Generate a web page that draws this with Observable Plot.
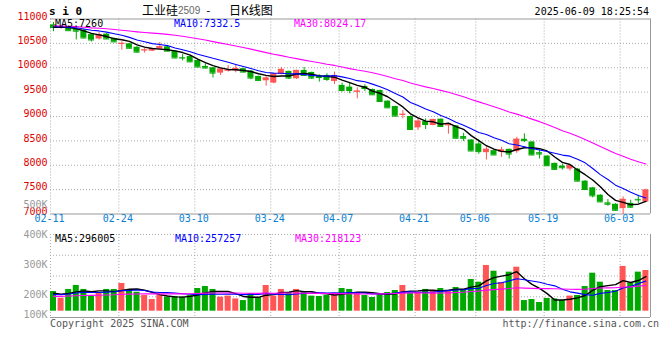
<!DOCTYPE html>
<html><head><meta charset="utf-8">
<script src="https://cdn.jsdelivr.net/npm/d3@7"></script>
<script src="https://cdn.jsdelivr.net/npm/@observablehq/plot@0.6"></script>
<style>
html,body{margin:0;padding:0;background:#fff;}
#chart{position:relative;width:660px;height:360px;overflow:hidden;background:#fff;font-family:"DejaVu Sans Mono",monospace;}
#chart svg{position:absolute;left:0;top:0;}
.lbl{position:absolute;white-space:nowrap;line-height:1;font-size:10px;font-family:"DejaVu Sans Mono",monospace;}
</style></head>
<body><div id="chart"></div>
<script>
const dates = ["02-11","02-12","02-13","02-14","02-17","02-18","02-19","02-20","02-21","02-24","02-25","02-26","02-27","02-28",
"03-03","03-04","03-05","03-06","03-07","03-10","03-11","03-12","03-13","03-14","03-17","03-18","03-19","03-20","03-21","03-24","03-25","03-26","03-27","03-28","03-31",
"04-01","04-02","04-03","04-07","04-08","04-09","04-10","04-11","04-14","04-15","04-16","04-17","04-18","04-21","04-22","04-23","04-24","04-25","04-28","04-29","04-30",
"05-06","05-07","05-08","05-09","05-12","05-13","05-14","05-15","05-16","05-19","05-20","05-21","05-22","05-23","05-26","05-27","05-28","05-29","05-30",
"06-03","06-04","06-05","06-06"];
const opens = [10880,10820,10840,10790,10770,10680,10590,10690,10600,10480,10490,10420,10350,10340,10380,10430,10340,10210,10230,10150,10027,10000,9890,9930,9938,9980,9931,9822,9733,9685,9863,9925,9774,9945,9904,9842,9842,9719,9637,9603,9500,9616,9555,9534,9315,9205,9030,9000,8767,8897,8815,8945,8808,8808,8588,8519,8437,8258,8300,8265,8327,8279,8533,8478,8258,8189,8038,7983,7921,7921,7674,7537,7386,7228,7200,7111,7220,7300,7245];
const highs = [10930,10870,10860,10810,10790,10690,10720,10700,10610,10530,10500,10430,10400,10400,10520,10440,10350,10270,10240,10160,10080,10005,9975,10048,10048,9990,9940,9830,9842,9877,10007,9930,9950,10007,9910,9856,9877,9911,9685,9692,9589,9650,9563,9540,9320,9210,9123,9010,8973,8952,8945,8950,8860,8815,8656,8525,8519,8382,8320,8368,8330,8574,8643,8485,8313,8195,8045,8024,8000,7930,7685,7545,7395,7296,7210,7351,7283,7385,7510];
const lows = [10740,10790,10750,10570,10600,10530,10570,10580,10520,10360,10390,10300,10300,10330,10370,10330,10190,10140,10110,10000,9975,9790,9842,9911,9897,9900,9753,9730,9623,9671,9855,9760,9760,9835,9760,9705,9720,9657,9500,9466,9363,9513,9435,9295,9170,9000,8952,8720,8712,8733,8810,8780,8636,8540,8485,8280,8224,8107,8200,8162,8128,8244,8464,8200,8128,7980,7905,7900,7880,7660,7495,7330,7235,7159,7060,6990,7111,7214,7240];
const closes = [10825,10840,10760,10750,10610,10570,10680,10590,10530,10500,10400,10320,10365,10390,10430,10340,10200,10200,10120,10015,9995,9890,9973,9955,9986,9911,9788,9740,9788,9870,9966,9788,9945,9842,9788,9800,9760,9842,9534,9534,9520,9575,9445,9308,9178,9007,9045,8733,8904,8836,8938,8794,8849,8553,8553,8292,8279,8327,8210,8313,8230,8533,8505,8210,8230,7990,7915,7949,7990,7674,7502,7372,7248,7200,7076,7300,7140,7290,7490];
const volumes = [168000,111000,186000,220000,186000,126000,151000,186000,186000,237000,177000,162000,134000,100000,134000,120000,126000,120000,134000,194000,211000,186000,120000,129000,105000,91000,151000,117000,220000,129000,186000,160000,186000,168000,129000,126000,134000,134000,194000,186000,160000,134000,117000,151000,160000,177000,220000,151000,162000,186000,177000,194000,177000,203000,186000,271000,248000,391000,342000,246000,334000,376000,91000,100000,74000,109000,105000,91000,129000,134000,211000,325000,248000,177000,177000,383000,240000,334000,348000];
// sessions before 02-11 (only feed the moving averages at the left edge)
const priorCloses = [10980,10940,10965,10930,10975,10950,10920,10945,10945,10880,10830,10790,10760,10745,10770,10790,10810,10820,10805,10840,10850,10865,10855,10860,10835,10815,10830,10855,10835];
const priorVolumes = [118000,105000,132000,124000,98000,115000,140000,121000,109000,126000,135000,112000,103000,128000,119000,131000,122000,110000,125000,116000,129000,120000,138000,127000,141000,153000,148000,160000,139000];
const priceTicks = [7000,7500,8000,8500,9000,9500,10000,10500,11000];
const dateTicks = ["02-11","02-24","03-10","03-24","04-07","04-21","05-06","05-19","06-03"];
const volTickLabels = ["500K","400K","300K","200K","100K"];
const priceLegend = ["MA5:7260","MA10:7332.5","MA30:8024.17"];
const volLegend = ["MA5:296005","MA10:257257","MA30:218123"];
const maPeriods = [5,10,30];
const maColors = ["#000000","#0000ff","#ff00ff"];

const UP = "#ff5555", DOWN = "#00a800";
const n = dates.length;
const BW = 0.79;
function movingAvg(prior, values, p) {
  const all = prior.concat(values), off = prior.length;
  return values.map((_, i) => d3.mean(all.slice(off + i - p + 1, off + i + 1)));
}
const rows = dates.map((date, i) => ({i, date, o: opens[i], h: highs[i], l: lows[i], c: closes[i], v: volumes[i], up: closes[i] >= opens[i]}));
const col = d => d.up ? UP : DOWN;
const priceMA = maPeriods.map(p => movingAvg(priorCloses, closes, p));
const volMA = maPeriods.map(p => movingAvg(priorVolumes, volumes, p));
const tickIdx = dateTicks.map(d => dates.indexOf(d));
const grid = {stroke: "#aaa", strokeDasharray: "1,2", strokeWidth: 1};
const frameLine = {stroke: "#999", strokeWidth: 1};
const baseStyle = {background: "transparent", fontFamily: "DejaVu Sans Mono, monospace", fontSize: "10px", overflow: "visible"};
const maLines = (mas) => mas.map((arr, k) => Plot.line(arr, {x: (d, i) => i + BW / 2, y: d => d, stroke: maColors[k], strokeWidth: k === 0 ? 1.4 : 1.1}));

const pricePlot = Plot.plot({
  width: 660, height: 360,
  marginLeft: 50, marginRight: 10, marginTop: 18.5, marginBottom: 146.5,
  x: {type: "linear", domain: [0, n], axis: null},
  y: {type: "linear", domain: [7000, 11000], axis: null},
  color: {type: "identity"},
  style: baseStyle,
  marks: [
    Plot.ruleY(priceTicks.slice(1, -1), grid),
    Plot.ruleX(tickIdx, grid),
    Plot.ruleY([priceTicks[0], priceTicks[priceTicks.length - 1]], frameLine),
    Plot.ruleX([n], frameLine),
    Plot.ruleX(rows, {x: d => d.i + BW / 2, y1: "l", y2: "h", stroke: col}),
    Plot.rect(rows, {x1: "i", x2: d => d.i + BW, y1: "o", y2: "c", fill: col}),
    Plot.ruleY(rows, {x1: "i", x2: d => d.i + BW, y: "c", stroke: col}),
    ...maLines(priceMA),
    Plot.text(priceTicks, {y: d => d, text: d => String(d), frameAnchor: "left", textAnchor: "end", dx: -3, dy: -2.5, fill: "#e00000"}),
    Plot.text(dateTicks, {x: d => dates.indexOf(d), text: d => d, frameAnchor: "bottom", dy: 8, dx: -1, fill: "#0a7fd4"})
  ]
});

const volDomain = [-54000, 656000];
const volLabelDy = [-34, -3.5, 26.7, 56.5, 76];
const volPlot = Plot.plot({
  width: 660, height: 360,
  marginLeft: 50, marginRight: 10, marginTop: 234, marginBottom: 43,
  x: {type: "linear", domain: [0, n], axis: null},
  y: {type: "linear", domain: volDomain, axis: null},
  color: {type: "identity"},
  style: baseStyle,
  marks: [
    Plot.ruleY([1, 2, 3, 4].map(k => volDomain[0] + (volDomain[1] - volDomain[0]) * k / 4), grid),
    Plot.ruleX(tickIdx, grid),
    Plot.ruleY([volDomain[0]], frameLine),
    Plot.ruleX([n], frameLine),
    Plot.rect(rows, {x1: "i", x2: d => d.i + BW, y1: 0, y2: "v", fill: col}),
    ...maLines(volMA),
    ...volTickLabels.map((t, k) => Plot.text([t], {text: d => d, frameAnchor: "top-left", textAnchor: "end", dx: -3, dy: volLabelDy[k], fill: "#999"}))
  ]
});

const chart = document.getElementById("chart");
chart.appendChild(pricePlot);
chart.appendChild(volPlot);

function addText(str, left, top, css) {
  const el = document.createElement("div");
  el.className = "lbl";
  el.textContent = str;
  el.style.left = left + "px";
  el.style.top = top + "px";
  Object.assign(el.style, css || {});
  chart.appendChild(el);
  return el;
}
addText("s i 0", 49, 6, {fontWeight: "bold", fontSize: "11px", color: "#000"});
addText("工业硅", 142, 4, {fontFamily: "'Noto Sans CJK SC'", fontSize: "12px", color: "#000"});
addText("2509", 178, 6, {fontFamily: "'Liberation Sans'", fontSize: "10px", color: "#666"});
addText("-", 205, 5, {fontSize: "11px", color: "#000"});
addText("日K线图", 229, 4, {fontFamily: "'Noto Sans CJK SC'", fontSize: "12px", color: "#000"});
const dt = addText("2025-06-09 18:25:54", 0, 6.7, {color: "#000"});
dt.style.left = ""; dt.style.right = (660 - 649) + "px";
const legX = [55, 174, 294];
priceLegend.forEach((t, k) => addText(t, legX[k], 18.7, {color: maColors[k]}));
const vlegX = [55, 175, 295];
volLegend.forEach((t, k) => addText(t, vlegX[k], 233.5, {color: maColors[k]}));
addText("Copyright 2025 SINA.COM", 50, 318.5, {color: "#555"});
const url = addText("http://finance.sina.com.cn", 0, 318.5, {color: "#555"});
url.style.left = ""; url.style.right = "1px";
</script></body></html>
